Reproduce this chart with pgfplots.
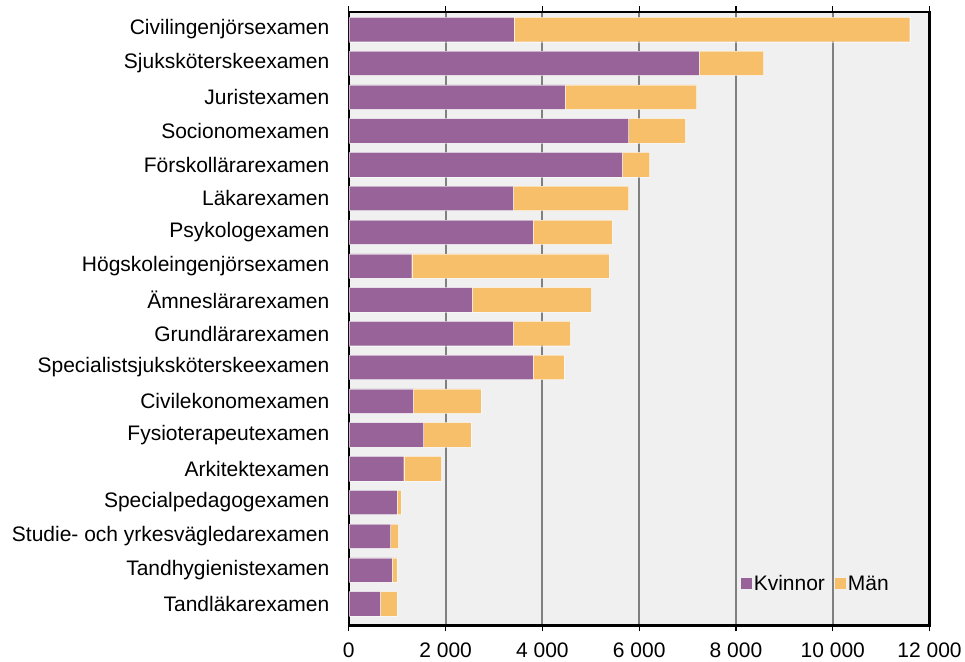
\documentclass[border=0pt]{standalone}
\usepackage{pgfplots}
\pgfplotsset{compat=1.18}
\usepackage{fontspec}
\setmainfont{Liberation Sans}
\definecolor{kv}{RGB}{152,99,153}
\definecolor{ma}{RGB}{248,191,106}
\definecolor{bg}{RGB}{240,240,240}
\definecolor{gr}{RGB}{128,128,128}
\begin{document}
\begin{tikzpicture}
\begin{axis}[
  name=ax,
  scale only axis,
  width=581pt, height=613.4pt,
  xbar stacked,
  bar width=24.4pt,
  xmin=0, xmax=12000,
  ymin=-0.51, ymax=17.64,
  y dir=reverse,
  scaled x ticks=false,
  ytick={0,...,17},
  yticklabels={Civilingenjörsexamen,Sjuksköterskeexamen,Juristexamen,Socionomexamen,Förskollärarexamen,Läkarexamen,Psykologexamen,Högskoleingenjörsexamen,Ämneslärarexamen,Grundlärarexamen,Specialistsjuksköterskeexamen,Civilekonomexamen,Fysioterapeutexamen,Arkitektexamen,Specialpedagogexamen,Studie- och yrkesvägledarexamen,Tandhygienistexamen,Tandläkarexamen},
  xtick={0,2000,...,12000},
  xticklabels={0,2 000,4 000,6 000,8 000,10 000,12 000},
  ytick style={draw=none},
  xtick style={black, line width=1.2pt},
  tick align=outside,
  major tick length=6pt,
  tick label style={font=\fontsize{21}{25}\selectfont},
  yticklabel style={xshift=-10pt},
  xticklabel style={yshift=-8pt},
  xmajorgrids,
  grid style={draw=gr, line width=2pt},
  axis line style={black, line width=2.4pt},
  axis background/.style={fill=bg},
  legend style={at={(0.6755,0.068)}, anchor=west, draw=none, fill=none,
    inner sep=0pt, font=\fontsize{21}{25}\selectfont, legend columns=2,
    nodes={inner sep=1.5pt},
    /tikz/every even column/.append style={column sep=9pt}},
  legend image code/.code={\fill[#1,draw=none] (0pt,-5.5pt) rectangle (11pt,5.5pt);},
]
\addplot[fill=kv, draw=white, draw opacity=0.5, line width=0.4pt] coordinates {
  (3410,0) (7240,1) (4470,2) (5780,3) (5650,4) (3400,5) (3807,6) (1300,7) (2546,8)
  (3402,9) (3807,10) (1332,11) (1546,12) (1134,13) (999,14) (864,15) (896,16) (650,17)};
\addplot[fill=ma, draw=white, draw opacity=0.5, line width=0.4pt] coordinates {
  (8180,0) (1330,1) (2715,2) (1175,3) (565,4) (2380,5) (1633,6) (4077,7) (2466,8)
  (1174,9) (634,10) (1396,11) (976,12) (777,13) (79,14) (159,15) (95,16) (341,17)};
\legend{Kvinnor,Män}
\end{axis}
\path[use as bounding box] ([shift={(-349pt,-33.3pt)}]ax.south west) rectangle ([shift={(35pt,12.3pt)}]ax.north east);
\end{tikzpicture}
\end{document}
